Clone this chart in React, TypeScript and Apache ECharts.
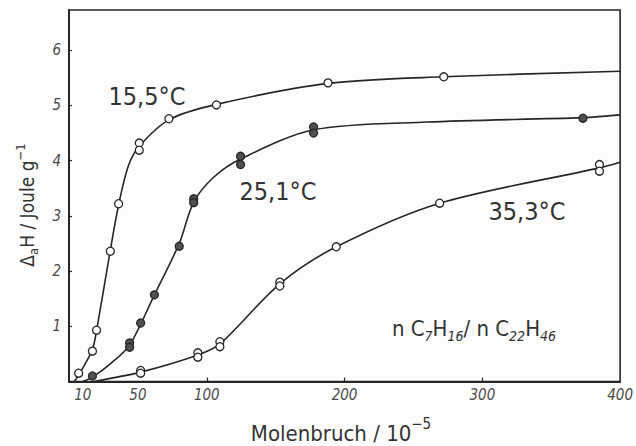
import React, { useEffect, useRef } from "react";
import * as echarts from "echarts";

// Measured points (x: Molenbruch / 1e-5, y: ΔaH / J g^-1)
const points155: number[][] = [
  [7, 0.15], [17, 0.55], [20, 0.93], [30, 2.36], [36, 3.22], [51, 4.32], [51, 4.19],
  [72.5, 4.76], [107, 5.01], [188, 5.41], [272, 5.52],
];
const points251: number[][] = [
  [17, 0.1], [44, 0.7], [44, 0.62], [52, 1.06], [62, 1.57], [80, 2.45], [90.5, 3.31],
  [90.5, 3.24], [124.5, 4.08], [124.5, 3.93], [177.5, 4.61], [177.5, 4.5], [373, 4.77],
];
const points353: number[][] = [
  [52, 0.2], [52, 0.15], [93.5, 0.52], [93.5, 0.44], [109.5, 0.72], [109.5, 0.63],
  [153, 1.8], [153, 1.73], [194, 2.44], [269, 3.23], [385, 3.93], [385, 3.81],
];

// Fitted curves
const curve155: number[][] = [
  [4, 0], [9, 0.2], [17, 0.58], [20, 0.92], [30, 2.38], [36, 3.2],
  [43, 3.9], [51, 4.26], [72.5, 4.74], [107, 5.02],
  [188, 5.4], [272, 5.52], [400, 5.62],
];
const curve251: number[][] = [
  [10, 0], [17, 0.08], [30, 0.32], [44, 0.66], [62, 1.57], [80, 2.5],
  [90.5, 3.25], [105, 3.7], [124.5, 4.03], [177.5, 4.56], [260, 4.7],
  [373, 4.78], [400, 4.83],
];
const curve353: number[][] = [
  [18, 0], [52, 0.17], [93.5, 0.48], [109.5, 0.68],
  [153, 1.77], [194, 2.44], [269, 3.23],
  [385, 3.87], [400, 3.97],
];

const xLabelValues = [10, 50, 100, 200, 300, 400];
const xTickValues = [100, 200, 300];
const yLabelValues = [1, 2, 3, 4, 5, 6];

const seriesLabels = ["15,5°C", "25,1°C", "35,3°C"];

const INK = "#262626";
const FONT = "'DejaVu Sans Condensed', 'Liberation Sans Narrow', 'DejaVu Sans', sans-serif";

export default function App() {
  const ref = useRef<HTMLDivElement>(null);
  useEffect(() => {
    if (!ref.current) return;
    const chart = echarts.init(ref.current, null, { renderer: "svg" });
    const lineSeries = (data: number[][]) => ({
      type: "line",
      data,
      symbol: "none",
      smooth: 0.3,
      lineStyle: { color: INK, width: 1.6 },
      silent: true,
      z: 2,
    });
    const scatterSeries = (data: number[][], fill: string) => ({
      type: "scatter",
      data,
      symbol: "circle",
      symbolSize: 8,
      itemStyle: { color: fill, borderColor: INK, borderWidth: 1.3, opacity: 1 },
      z: 3,
    });
    chart.setOption({
      animation: false,
      backgroundColor: "#fdfdfd",
      grid: {
        left: 69, right: 14, top: 10, bottom: 64.5,
        show: true, borderColor: INK, borderWidth: 1.6, backgroundColor: "transparent",
      },
      xAxis: {
        type: "value",
        min: 0,
        max: 400,
        axisLine: { show: true, lineStyle: { color: INK, width: 2 } },
        axisTick: { show: true, inside: true, length: 4, customValues: xTickValues, lineStyle: { color: INK, width: 1.2 } },
        axisLabel: {
          customValues: xLabelValues,
          color: "#4a4a4a",
          fontStyle: "italic",
          fontSize: 15,
          fontFamily: FONT,
          margin: 6,
          showMaxLabel: true,
        },
        splitLine: { show: false },
      },
      yAxis: {
        type: "value",
        min: 0,
        max: 6.73,
        axisLine: { show: true, lineStyle: { color: INK, width: 2 } },
        axisTick: { show: true, inside: true, length: 3, customValues: yLabelValues, lineStyle: { color: INK, width: 1.2 } },
        axisLabel: {
          customValues: yLabelValues,
          color: "#4a4a4a",
          fontStyle: "italic",
          fontSize: 15,
          fontFamily: FONT,
          margin: 8,
        },
        splitLine: { show: false },
      },
      series: [
        lineSeries(curve155),
        lineSeries(curve251),
        lineSeries(curve353),
        scatterSeries(points155, "#ffffff"),
        scatterSeries(points251, "#505050"),
        scatterSeries(points353, "#ffffff"),
      ],
      graphic: [
        {
          type: "text", x: 147, y: 96,
          style: { text: seriesLabels[0], fill: "#333", font: `25px ${FONT}`, align: "center", verticalAlign: "middle" },
        },
        {
          type: "text", x: 278, y: 191,
          style: { text: seriesLabels[1], fill: "#333", font: `25px ${FONT}`, align: "center", verticalAlign: "middle" },
        },
        {
          type: "text", x: 527, y: 211,
          style: { text: seriesLabels[2], fill: "#333", font: `25px ${FONT}`, align: "center", verticalAlign: "middle" },
        },
        {
          type: "text", x: 474, y: 330,
          style: {
            text: "{m|n C}{s|7}{m|H}{s|16}{m|/ n C}{s|22}{m|H}{s|46}",
            align: "center", verticalAlign: "middle",
            rich: {
              m: { fontSize: 22, fontFamily: FONT, fill: "#333", lineHeight: 26, verticalAlign: "top" },
              s: { fontSize: 14, fontFamily: FONT, fill: "#333", lineHeight: 26, verticalAlign: "bottom", fontStyle: "italic" },
            },
          },
        },
        {
          type: "text", x: 341, y: 430,
          style: {
            text: "{m|Molenbruch / 10}{p|−5}",
            align: "center", verticalAlign: "middle",
            rich: {
              m: { fontSize: 22, fontFamily: FONT, fill: "#333", lineHeight: 28, verticalAlign: "bottom" },
              p: { fontSize: 15, fontFamily: FONT, fill: "#333", lineHeight: 28, verticalAlign: "top" },
            },
          },
        },
        {
          type: "text", x: 27, y: 205, rotation: Math.PI / 2,
          style: {
            text: "{m|Δ}{s|a}{m|H / Joule g}{p|−1}",
            align: "center", verticalAlign: "middle",
            rich: {
              m: { fontSize: 19, fontFamily: FONT, fill: "#333", lineHeight: 26, verticalAlign: "middle" },
              s: { fontSize: 13, fontFamily: FONT, fill: "#333", lineHeight: 26, verticalAlign: "bottom" },
              p: { fontSize: 13, fontFamily: FONT, fill: "#333", lineHeight: 26, verticalAlign: "top" },
            },
          },
        },
      ],
    });
    return () => chart.dispose();
  }, []);
  return <div ref={ref} style={{ width: 636, height: 446, position: "absolute", left: 0, top: 0 }} />;
}
